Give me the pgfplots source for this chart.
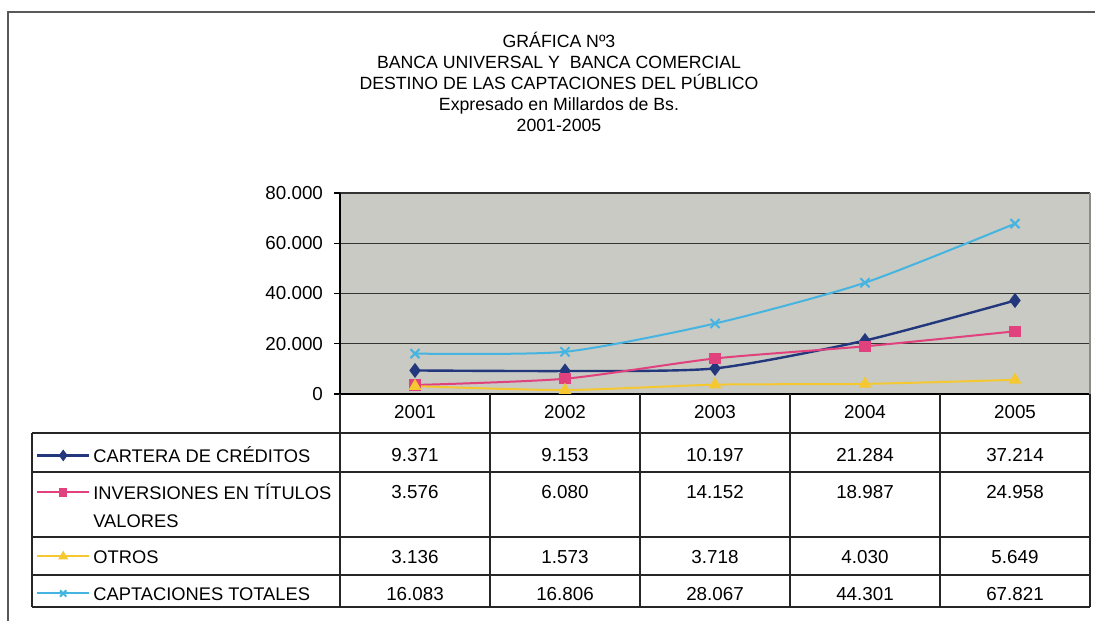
\documentclass[border=0pt]{standalone}
\usepackage{fontspec}
\setmainfont{Liberation Sans}
\usepackage{pgfplots}
\pgfplotsset{compat=1.18}
\definecolor{cnavy}{RGB}{35,55,125}
\definecolor{cpink}{RGB}{225,65,125}
\definecolor{cyell}{RGB}{245,200,50}
\definecolor{ccyan}{RGB}{70,180,225}
\definecolor{plotbg}{RGB}{200,202,195}
\newcommand{\rs}{\rule[-4pt]{0pt}{18.5pt}}
\newcommand{\tf}{\fontsize{9.4}{10.5}\selectfont}
\newcommand{\lf}{\fontsize{9.15}{10.5}\selectfont}
\begin{document}
\begin{tikzpicture}[x=0.5pt,y=-0.5pt]
\useasboundingbox (0,0) rectangle (1095,621);
\fill[white] (0,0) rectangle (1095,621);
\draw[black!65, line width=0.8pt] (8,621) -- (8,12) -- (1095,12);
% title
\begin{scope}[every node/.style={anchor=base, font=\fontsize{8.85}{10}\selectfont, inner sep=0pt}]
\node at (559,47) {GRÁFICA Nº3};
\node at (559,68) {BANCA UNIVERSAL Y \ BANCA COMERCIAL};
\node at (559,89) {DESTINO DE LAS CAPTACIONES DEL PÚBLICO};
\node at (559,110) {Expresado en Millardos de Bs.};
\node at (559,131) {2001-2005};
\end{scope}
\begin{axis}[
  at={(170pt,-197pt)}, anchor=south west,
  scale only axis, width=375pt, height=100.5pt,
  xmin=-0.5, xmax=4.5, ymin=0, ymax=80000,
  axis x line*=bottom, axis y line*=left,
  xtick=\empty,
  ytick={0,20000,40000,60000,80000},
  yticklabels={0,20.000,40.000,60.000,80.000},
  scaled y ticks=false,
  ymajorgrids, grid style={black!80, line width=0.6pt},
  tick align=outside, major tick length=3pt,
  tick style={black, line width=0.6pt},
  axis line style={black, line width=0.6pt},
  yticklabel style={font=\fontsize{9.4}{10}\selectfont, xshift=-2pt},
  axis background/.style={fill=plotbg},
  clip=false,
  legend style={at={(axis description cs:-0.40533,-0.19403)}, anchor=north west,
    draw=none, fill=none, inner sep=0pt, outer sep=0pt, row sep=0pt, column sep=1.5pt,
    cells={anchor=base west},
    nodes={inner sep=0pt, text depth=, font=\lf}},
  legend image code/.code={\draw[mark repeat=2,mark phase=2,#1,every mark/.append style={scale=0.7}]
     plot coordinates {(0pt,3.3pt)(13pt,3.3pt)(26pt,3.3pt)};},
  after end axis/.code={\draw[black!45, line width=0.6pt] (rel axis cs:1,0) -- (rel axis cs:1,1);},
]
\addplot[cnavy, line width=1.2pt, smooth, tension=0.4, mark=diamond*, mark size=2.8pt, mark options={solid, fill=cnavy}]
  coordinates {(0,9371) (1,9153) (2,10197) (3,21284) (4,37214)};
\addlegendentry{\rs CARTERA DE CRÉDITOS}
\addplot[cpink, line width=1pt, smooth, tension=0.4, mark=square*, mark size=2.3pt, mark options={solid, fill=cpink}]
  coordinates {(0,3576) (1,6080) (2,14152) (3,18987) (4,24958)};
\addlegendentry{\vtop{\hbox{\rs INVERSIONES EN TÍTULOS}\nointerlineskip\hbox{\rule[-3.5pt]{0pt}{13.5pt}VALORES}}}
\addplot[cyell, line width=1pt, smooth, tension=0.4, mark=triangle*, mark size=2.7pt, mark options={solid, fill=cyell}]
  coordinates {(0,3136) (1,1573) (2,3718) (3,4030) (4,5649)};
\addlegendentry{\rs OTROS}
\addplot[ccyan, line width=1pt, smooth, tension=0.4, mark=x, mark size=3.2pt, mark options={solid, line width=1pt}]
  coordinates {(0,16083) (1,16806) (2,28067) (3,44301) (4,67821)};
\addlegendentry{\rs CAPTACIONES TOTALES}
\end{axis}
% data table
\begin{scope}[black!85, line width=0.6pt]
\foreach \xx in {340,490,640,790,940,1090} {\draw (\xx,394) -- (\xx,607);}
\draw (32,433) -- (32,607);
\foreach \yy in {433,472,537,575,607} {\draw (32,\yy) -- (1090,\yy);}
\end{scope}
\begin{scope}[every node/.style={anchor=base, font=\tf, inner sep=0pt}]
\foreach \v [count=\i from 0] in {2001,2002,2003,2004,2005} {\node at (415+150*\i,418) {\v};}
\foreach \v [count=\i from 0] in {9.371,9.153,10.197,21.284,37.214} {\node at (415+150*\i,461) {\v};}
\foreach \v [count=\i from 0] in {3.576,6.080,14.152,18.987,24.958} {\node at (415+150*\i,498) {\v};}
\foreach \v [count=\i from 0] in {3.136,1.573,3.718,4.030,5.649} {\node at (415+150*\i,563) {\v};}
\foreach \v [count=\i from 0] in {16.083,16.806,28.067,44.301,67.821} {\node at (415+150*\i,600) {\v};}
\end{scope}
\end{tikzpicture}
\end{document}
